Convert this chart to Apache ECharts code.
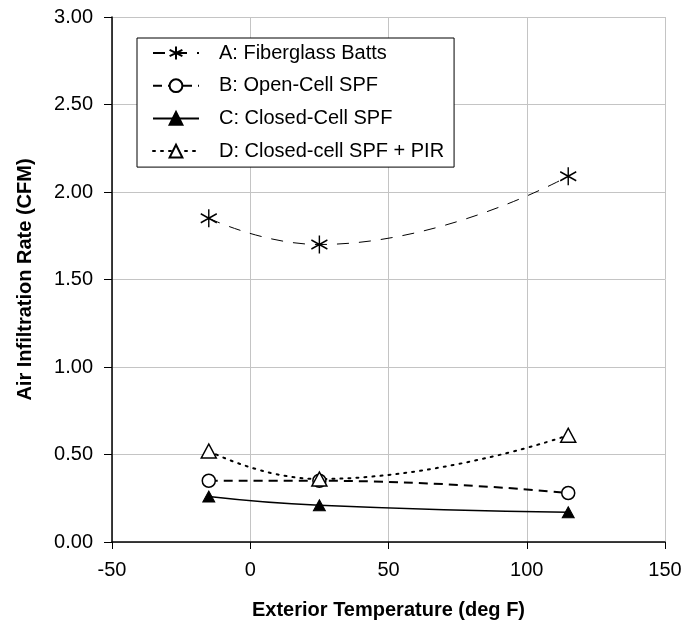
<!DOCTYPE html>
<html>
<head>
<meta charset="utf-8">
<script src="https://cdn.jsdelivr.net/npm/echarts@6/dist/echarts.min.js"></script>
<style>
  html, body { margin: 0; padding: 0; background: #fff; }
  #main { width: 689px; height: 633px; }
</style>
</head>
<body>
<div id="main"></div>
<script>
  // exterior temperature (deg F)
  const temps = [-15, 25, 115]
  // air infiltration rate (CFM) per assembly
  const fiberglass = [1.85, 1.70, 2.09]
  const openCell = [0.35, 0.35, 0.28]
  const closedCell = [0.26, 0.21, 0.17]
  const closedPir = [0.52, 0.36, 0.61]

  const names = [
    'A: Fiberglass Batts',
    'B: Open-Cell SPF',
    'C: Closed-Cell SPF',
    'D: Closed-cell SPF + PIR'
  ]

  const pairs = (ys) => temps.map((t, i) => [t, ys[i]])
  const starPath = 'path://M0,-10L0,10M-8.66,-5L8.66,5M-8.66,5L8.66,-5'
  const font = 'Arial, "Liberation Sans", sans-serif'

  const chart = echarts.init(document.getElementById('main'))
  chart.setOption({
    animation: false,
    textStyle: { fontFamily: font },
    grid: { left: 112, right: 24, top: 17, bottom: 91 },
    legend: {
      orient: 'vertical',
      left: 137,
      top: 38,
      backgroundColor: '#fff',
      borderColor: '#000',
      borderWidth: 1,
      padding: [4, 10, 5, 15],
      itemWidth: 46,
      itemHeight: 16,
      itemGap: 10.7,
      textStyle: { fontSize: 20, color: '#000', lineHeight: 22, padding: [0, 0, 0, 15], fontFamily: font },
      data: names
    },
    xAxis: {
      type: 'value',
      min: -50,
      max: 150,
      interval: 50,
      name: 'Exterior Temperature (deg F)',
      nameLocation: 'middle',
      nameGap: 58,
      nameTextStyle: { fontSize: 20, fontWeight: 'bold', color: '#000' },
      axisLine: { onZero: false, lineStyle: { color: '#000', width: 1.5 } },
      axisTick: { show: true, length: 7, lineStyle: { color: '#000' } },
      axisLabel: { fontSize: 20, color: '#000', margin: 18 },
      splitLine: { show: true, lineStyle: { color: '#c4c4c4', width: 1 } }
    },
    yAxis: {
      type: 'value',
      min: 0,
      max: 3,
      interval: 0.5,
      name: 'Air Infiltration Rate (CFM)',
      nameLocation: 'middle',
      nameRotate: 90,
      nameGap: 77,
      nameTextStyle: { fontSize: 20, fontWeight: 'bold', color: '#000' },
      axisLine: { show: true, onZero: false, lineStyle: { color: '#000', width: 1.5 } },
      axisTick: { show: true, length: 8, lineStyle: { color: '#000' } },
      axisLabel: { fontSize: 20, color: '#000', margin: 19, formatter: (v) => v.toFixed(2) },
      splitLine: { show: true, lineStyle: { color: '#c4c4c4', width: 1 } }
    },
    series: [
      {
        name: names[0],
        type: 'line',
        smooth: true,
        data: pairs(fiberglass),
        symbol: starPath,
        symbolSize: [16, 18],
        lineStyle: { color: '#000', width: 1, type: [12, 10] },
        itemStyle: { color: '#000', borderColor: '#000', borderWidth: 1.5 }
      },
      {
        name: names[1],
        type: 'line',
        smooth: true,
        data: pairs(openCell),
        symbol: 'circle',
        symbolSize: 13,
        lineStyle: { color: '#000', width: 2, type: [9, 6] },
        itemStyle: { color: '#fff', borderColor: '#000', borderWidth: 1.5 }
      },
      {
        name: names[2],
        type: 'line',
        smooth: true,
        data: pairs(closedCell),
        symbol: 'triangle',
        symbolSize: [12, 11],
        lineStyle: { color: '#000', width: 1.5 },
        itemStyle: { color: '#000', borderColor: '#000', borderWidth: 1 }
      },
      {
        name: names[3],
        type: 'line',
        smooth: true,
        data: pairs(closedPir),
        symbol: 'triangle',
        symbolSize: [15, 14],
        lineStyle: { color: '#000', width: 2, type: [2, 6], cap: 'round' },
        itemStyle: { color: '#fff', borderColor: '#000', borderWidth: 1.5 }
      }
    ]
  })
</script>
</body>
</html>
